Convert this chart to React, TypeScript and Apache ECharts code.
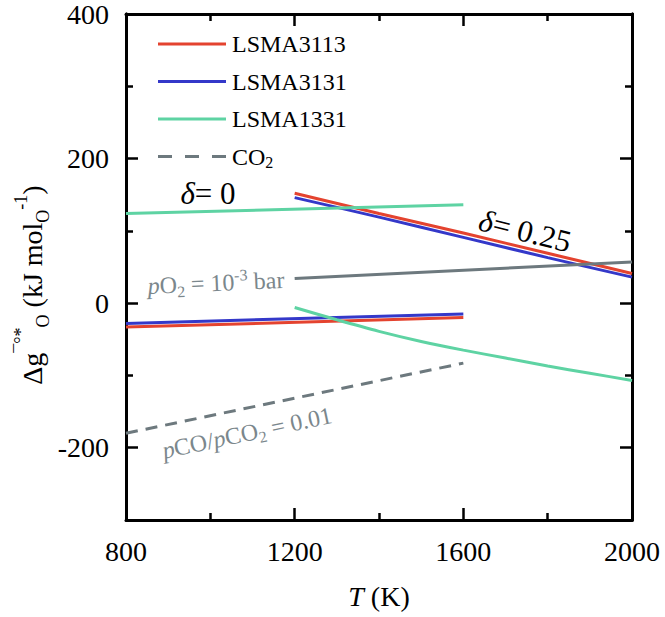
import React, { useEffect, useRef } from "react";
import * as echarts from "echarts";

const SERIF = "'Liberation Serif', 'Times New Roman', serif";

// temperature grids (K)
const tDelta0 = [800, 1600];
const tDelta025 = [1200, 1400, 1600, 1800, 2000];
const tGreen025 = [1200, 1300, 1400, 1500, 1600, 1700, 1800, 1900, 2000];
const tO2 = [1200, 2000];
const tCO2 = [800, 1600];

// Δg values (kJ mol_O^-1)
const lsma3113Delta0 = [-33, -20];
const lsma3131Delta0 = [-28, -15];
const lsma1331Delta0 = [124, 136];
const lsma3113Delta025 = [152, 124, 97, 69, 41];
const lsma3131Delta025 = [146, 119, 91, 63, 36];
const lsma1331Delta025 = [-6, -23, -39, -53, -65, -76, -87, -97, -107];
const o2Line = [34, 57];
const co2Line = [-180, -83];

const yMajor = [-200, 0, 200, 400];
const yMinor = [-300, -100, 100, 300];

const RED = "#e4432f";
const BLUE = "#3438c9";
const GREEN = "#5ed3a3";
const GRAY = "#6d797e";
const LABEL_GRAY = "#7b878c";

const SOLID_ICON = "path://M0,0h68v3h-68z";
const DASH_ICON = "path://M0,0h14v3h-14z M27,0h14v3h-14z M54,0h14v3h-14z";

const zip = (xs: number[], ys: number[]) => xs.map((x, i) => [x, ys[i]]);

const line = (name: string, xs: number[], ys: number[], color: string, dashed = false) => ({
  name,
  type: "line",
  data: zip(xs, ys),
  symbol: "none",
  smooth: xs.length > 2 ? 0.3 : false,
  lineStyle: { color, width: 3, type: dashed ? [12, 8] : "solid" },
  itemStyle: { color },
  z: 3,
});

const App = () => {
  const ref = useRef<HTMLDivElement>(null);

  useEffect(() => {
    if (!ref.current) return;
    const chart = echarts.init(ref.current, null, { renderer: "svg" });

    const axisLine = { show: true, onZero: false, lineStyle: { color: "#000", width: 3 } };
    const tickMajor = { inside: true, length: 12, lineStyle: { color: "#000", width: 2.5 } };
    const tickMinor = { inside: true, length: 7, lineStyle: { color: "#000", width: 2.5 } };

    const xCommon = {
      type: "value",
      min: 800,
      max: 2000,
      interval: 400,
      axisLine,
      axisTick: tickMajor,
      minorTick: { show: true, splitNumber: 2, length: 7, lineStyle: { color: "#000", width: 2.5 } },
      splitLine: { show: false },
      minorSplitLine: { show: false },
    };

    const yBase = (position: string, values: number[], tick: any, labels: boolean) => ({
      type: "value",
      position,
      min: -300,
      max: 400,
      interval: 100,
      axisLine,
      axisTick: { ...tick, customValues: values },
      axisLabel: labels
        ? {
            show: true,
            customValues: yMajor,
            formatter: (v: number) => String(v),
            fontFamily: SERIF,
            fontSize: 28,
            color: "#000",
            margin: 17,
          }
        : { show: false },
      splitLine: { show: false },
    });

    const richTitle = {
      t: { fontFamily: SERIF, fontSize: 28, fill: "#000", lineHeight: 40 },
      sup: { fontFamily: SERIF, fontSize: 18, fill: "#000", lineHeight: 18, verticalAlign: "top" },
      sub: { fontFamily: SERIF, fontSize: 18, fill: "#000", lineHeight: 18, verticalAlign: "bottom" },
    };

    const deltaRich = {
      d: { fontFamily: SERIF, fontSize: 31, fontStyle: "italic", fill: "#000" },
      n: { fontFamily: SERIF, fontSize: 31, fill: "#000" },
    };

    const option = {
      animation: false,
      backgroundColor: "#fff",
      textStyle: { fontFamily: SERIF },
      grid: { left: 126, right: 33, top: 14, bottom: 97, containLabel: false },
      legend: {
        orient: "vertical",
        left: 153,
        top: 27,
        itemWidth: 68,
        itemHeight: 3,
        itemGap: 13.5,
        data: [
          { name: "LSMA3113", icon: SOLID_ICON },
          { name: "LSMA3131", icon: SOLID_ICON },
          { name: "LSMA1331", icon: SOLID_ICON },
          { name: "CO2", icon: DASH_ICON },
        ],
        formatter: (name: string) => (name === "CO2" ? "{a|CO}{s|2}" : `{a|${name}}`),
        textStyle: {
          fontFamily: SERIF,
          fontSize: 24,
          color: "#000",
          padding: [0, 0, 0, 1],
          rich: {
            a: { fontFamily: SERIF, fontSize: 24, color: "#000", lineHeight: 28 },
            s: { fontFamily: SERIF, fontSize: 16, color: "#000", lineHeight: 14, verticalAlign: "bottom" },
          },
        },
      },
      xAxis: [
        {
          ...xCommon,
          position: "bottom",
          axisLabel: {
            fontFamily: SERIF,
            fontSize: 28,
            color: "#000",
            margin: 17,
            formatter: (v: number) => String(v),
          },
          name: "{i|T} (K)",
          nameLocation: "middle",
          nameGap: 62,
          nameTextStyle: {
            fontFamily: SERIF,
            fontSize: 28,
            color: "#000",
            rich: {
              i: { fontFamily: SERIF, fontSize: 28, fontStyle: "italic", color: "#000" },
            },
          },
        },
        { ...xCommon, position: "top", axisLabel: { show: false } },
      ],
      yAxis: [
        yBase("left", yMajor, tickMajor, true),
        yBase("left", yMinor, tickMinor, false),
        yBase("right", yMajor, tickMajor, false),
        yBase("right", yMinor, tickMinor, false),
      ],
      series: [
        line("LSMA3113", tDelta0, lsma3113Delta0, RED),
        line("LSMA3113", tDelta025, lsma3113Delta025, RED),
        line("LSMA3131", tDelta0, lsma3131Delta0, BLUE),
        line("LSMA3131", tDelta025, lsma3131Delta025, BLUE),
        line("LSMA1331", tDelta0, lsma1331Delta0, GREEN),
        line("LSMA1331", tGreen025, lsma1331Delta025, GREEN),
        line("O2", tO2, o2Line, GRAY),
        line("CO2", tCO2, co2Line, GRAY, true),
      ],
      graphic: [
        {
          type: "text",
          x: 32,
          y: 285,
          rotation: Math.PI / 2,
          style: {
            text: "{t|Δg}{sup|¯°*}{sub|O}{t| (kJ mol}{sub|O}{sup|-1}{t|)}",
            align: "center",
            verticalAlign: "middle",
            rich: richTitle,
          },
        },
        {
          type: "text",
          x: 208,
          y: 193,
          style: {
            text: "{d|δ}{n|= 0}",
            align: "center",
            verticalAlign: "middle",
            rich: deltaRich,
          },
        },
        {
          type: "text",
          x: 525,
          y: 231,
          rotation: -0.245,
          style: {
            text: "{d|δ}{n|= 0.25}",
            align: "center",
            verticalAlign: "middle",
            rich: deltaRich,
          },
        },
        {
          type: "text",
          x: 216,
          y: 283,
          rotation: 0.045,
          style: {
            text: "{i|p}{n|O}{s|2}{n| = 10}{u|-3}{n| bar}",
            align: "center",
            verticalAlign: "middle",
            rich: {
              i: { fontFamily: SERIF, fontSize: 24, fontStyle: "italic", fill: LABEL_GRAY, lineHeight: 30 },
              n: { fontFamily: SERIF, fontSize: 24, fill: LABEL_GRAY, lineHeight: 30 },
              s: { fontFamily: SERIF, fontSize: 16, fill: LABEL_GRAY, lineHeight: 16, verticalAlign: "bottom" },
              u: { fontFamily: SERIF, fontSize: 16, fill: LABEL_GRAY, lineHeight: 16, verticalAlign: "top" },
            },
          },
        },
        {
          type: "text",
          x: 247,
          y: 433,
          rotation: 0.21,
          style: {
            text: "{i|p}{n|CO/}{i|p}{n|CO}{s|2}{n| = 0.01}",
            align: "center",
            verticalAlign: "middle",
            rich: {
              i: { fontFamily: SERIF, fontSize: 24, fontStyle: "italic", fill: LABEL_GRAY, lineHeight: 30 },
              n: { fontFamily: SERIF, fontSize: 24, fill: LABEL_GRAY, lineHeight: 30 },
              s: { fontFamily: SERIF, fontSize: 16, fill: LABEL_GRAY, lineHeight: 16, verticalAlign: "bottom" },
            },
          },
        },
      ],
    };

    chart.setOption(option as any);
    return () => chart.dispose();
  }, []);

  return (
    <div
      ref={ref}
      style={{ position: "absolute", left: 0, top: 0, width: 665, height: 617 }}
    />
  );
};

export default App;
